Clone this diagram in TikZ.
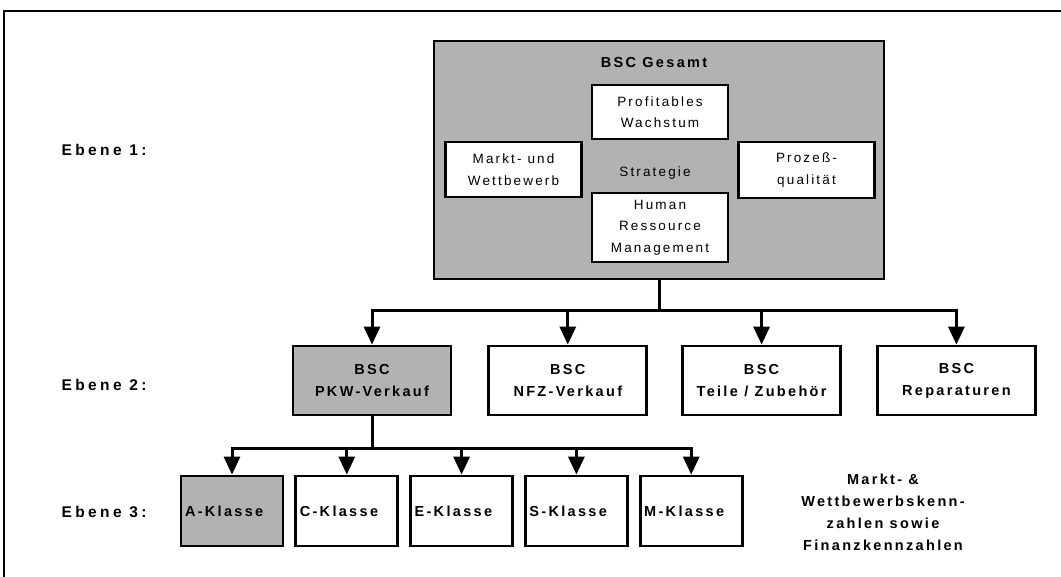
\documentclass[tikz,border=0pt]{standalone}
\usepackage{fontspec}
\setmainfont{Liberation Sans}
\newfontfamily\widefont[LetterSpace=16]{Liberation Sans}
\newfontfamily\widerfont[LetterSpace=22]{Liberation Sans}
\usetikzlibrary{positioning}
\usetikzlibrary{arrows.meta}
\definecolor{boxgray}{gray}{0.7}
\tikzset {
  % plain framed box
  box/.style = {draw, line width=2.8pt, fill=white, align=center, inner sep=0pt},
  % shaded box for the selected branch
  shaded/.style = {fill=boxgray},
  % text styles
  boldtext/.style = {font=\widefont\fontsize{14.5}{22}\selectfont\bfseries},
  leveltext/.style = {font=\widerfont\fontsize{15.5}{22}\selectfont\bfseries},
  thintext/.style = {font=\widefont\fontsize{13.5}{21.5}\selectfont},
  % boxes per level
  lvltwo/.style = {box, boldtext, minimum width=158pt, minimum height=69pt},
  lvlthree/.style = {box, boldtext, minimum width=102pt, minimum height=70pt,
    text width=94pt, align=left, inner sep=4pt},
  inner/.style = {box, thintext, minimum width=136pt},
  % connectors
  conn/.style = {line width=3pt, >={Triangle[length=18pt, width=16pt]}},
}
\begin{document}
\begin{tikzpicture}[x=1pt, y=-1pt]
  \useasboundingbox (0,0) rectangle (1061,577);

  % frame
  \coordinate (fbl) at (4,578);
  \coordinate (ftl) at (4,11);
  \coordinate (ftr) at (1062,11);
  \draw[line width=2pt] (fbl) -- (ftl) -- (ftr);

  % level labels
  \node[leveltext, anchor=west] (ebene1) at (58,150) {Ebene 1:};
  \node[leveltext, anchor=west] (ebene2) at (58,385) {Ebene 2:};
  \node[leveltext, anchor=west] (ebene3) at (58,512) {Ebene 3:};

  % level 1
  \node[box, shaded, minimum width=450pt, minimum height=238pt] (gesamt) at (659,160) {};
  \node[boldtext] (gesamtlbl) at (654,63) {BSC Gesamt};
  \node[inner, minimum height=54pt] (wachstum) at (660,112) {Profitables\\Wachstum};
  \node[inner, minimum height=69pt] (hrm) at (660,227.5) {Human\\Ressource\\Management};
  \node[inner, minimum height=55pt] (markt) at (513.5,169.5) {Markt- und\\Wettbewerb};
  \node[inner, minimum height=56pt] (prozess) at (806.5,170) {Prozeß-\\qualität};
  \node[thintext] (strategie) at (655,173) {Strategie};

  % level 2
  \node[lvltwo, shaded] (pkw) at (372,380.5) {BSC\\PKW-Verkauf};
  \node[lvltwo, right=35pt of pkw] (nfz) {BSC\\NFZ-Verkauf};
  \node[lvltwo, right=33pt of nfz] (teile) {BSC\\Teile / Zubehör};
  \node[lvltwo, right=34pt of teile] (rep) {BSC\\Reparaturen};

  % level 3
  \node[lvlthree, shaded] (aklasse) at (232,511) {A-Klasse};
  \node[lvlthree, right=10pt of aklasse] (cklasse) {C-Klasse};
  \node[lvlthree, right=10pt of cklasse] (eklasse) {E-Klasse};
  \node[lvlthree, right=10pt of eklasse] (sklasse) {S-Klasse};
  \node[lvlthree, right=10pt of sklasse] (mklasse) {M-Klasse};

  \node[boldtext, align=center] (kennzahlen) at (883,512)
    {Markt- \&\\Wettbewerbskenn-\\zahlen sowie\\Finanzkennzahlen};

  % connectors
  \coordinate (busone) at (0,311);
  \coordinate (bustwo) at (0,448);
  \foreach \n in {pkw,nfz,teile,rep}
    \draw[conn, ->] (gesamt.south) |- (\n.north |- busone) -- (\n.north);
  \foreach \n in {aklasse,cklasse,eklasse,sklasse,mklasse}
    \draw[conn, ->] (pkw.south) |- (\n.north |- bustwo) -- (\n.north);

\end{tikzpicture}
\end{document}
